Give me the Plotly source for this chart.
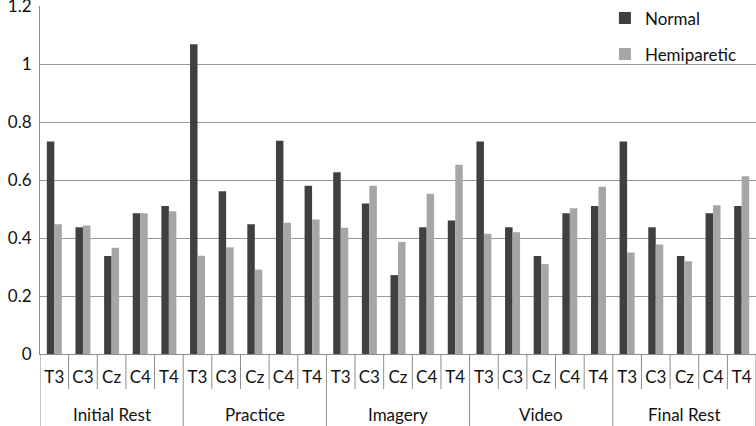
import plotly.graph_objects as go

conditions = ["Initial Rest", "Practice", "Imagery", "Video", "Final Rest"]
electrodes = ["T3", "C3", "Cz", "C4", "T4"]

normal = [
    0.733, 0.437, 0.338, 0.485, 0.510,
    1.068, 0.561, 0.447, 0.735, 0.580,
    0.627, 0.519, 0.272, 0.437, 0.460,
    0.733, 0.437, 0.338, 0.485, 0.510,
    0.733, 0.437, 0.338, 0.485, 0.510,
]
hemiparetic = [
    0.447, 0.443, 0.366, 0.485, 0.492,
    0.339, 0.368, 0.291, 0.453, 0.464,
    0.435, 0.580, 0.386, 0.553, 0.653,
    0.415, 0.420, 0.310, 0.503, 0.577,
    0.350, 0.378, 0.320, 0.513, 0.613,
]

keys = [f"{c}|{e}" for c in conditions for e in electrodes]
tick_text = [e for _ in conditions for e in electrodes]

W, H = 756, 426
ML, MR, MT, MB = 40, 0, 6, 72
PH = H - MT - MB
LINE = "#8c8c8c"
FONT = "Lato"
FS = 17

fig = go.Figure()
fig.add_trace(go.Bar(x=keys, y=normal, name="Normal",
                     marker=dict(color="#404040", line=dict(width=0)),
                     legendgroup="a"))
fig.add_trace(go.Bar(x=keys, y=hemiparetic, name="Hemiparetic",
                     marker=dict(color="#a6a6a6", line=dict(width=0)),
                     legendgroup="b"))

shapes = []
n = len(keys)
per = len(electrodes)
for i in range(n + 1):
    long = (i % per == 0)
    depth = MB if long else 35
    shapes.append(dict(type="line", xref="x", yref="paper",
                       x0=i - 0.5, x1=i - 0.5, y0=0, y1=-depth / PH,
                       line=dict(color=LINE, width=1)))

annotations = []
for g, c in enumerate(conditions):
    annotations.append(dict(text=c, xref="x", yref="paper",
                            x=g * per + (per - 1) / 2, y=-60 / PH,
                            showarrow=False, xanchor="center", yanchor="middle",
                            font=dict(family=FONT, size=FS, color="#111111")))

fig.update_layout(
    width=W, height=H,
    margin=dict(l=ML, r=MR, t=MT, b=MB, autoexpand=False),
    paper_bgcolor="white", plot_bgcolor="white",
    barmode="group", bargap=0.476, bargroupgap=0,
    font=dict(family=FONT, size=FS, color="#111111"),
    showlegend=True,
    legend=dict(x=0.789, y=1.016, xanchor="left", yanchor="top",
                bgcolor="rgba(0,0,0,0)", font=dict(size=FS),
                tracegroupgap=11, traceorder="grouped", itemwidth=30),
    yaxis=dict(range=[0, 1.2], dtick=0.2, showgrid=True, gridcolor="#999999",
               gridwidth=1, zeroline=False, showline=True, linecolor=LINE,
               ticks="", tickformat="~g", ticklabeloverflow="allow",
               ticklabelstandoff=4),
    xaxis=dict(type="category", range=[-0.5, n - 0.5], showline=True,
               linecolor=LINE, ticks="", tickvals=keys, ticktext=tick_text,
               ticklabelstandoff=8, ticklabeloverflow="allow"),
    shapes=shapes,
    annotations=annotations,
)

fig.write_html("out.html", config={"displayModeBar": False},
               post_script="document.body.style.margin='0';")
